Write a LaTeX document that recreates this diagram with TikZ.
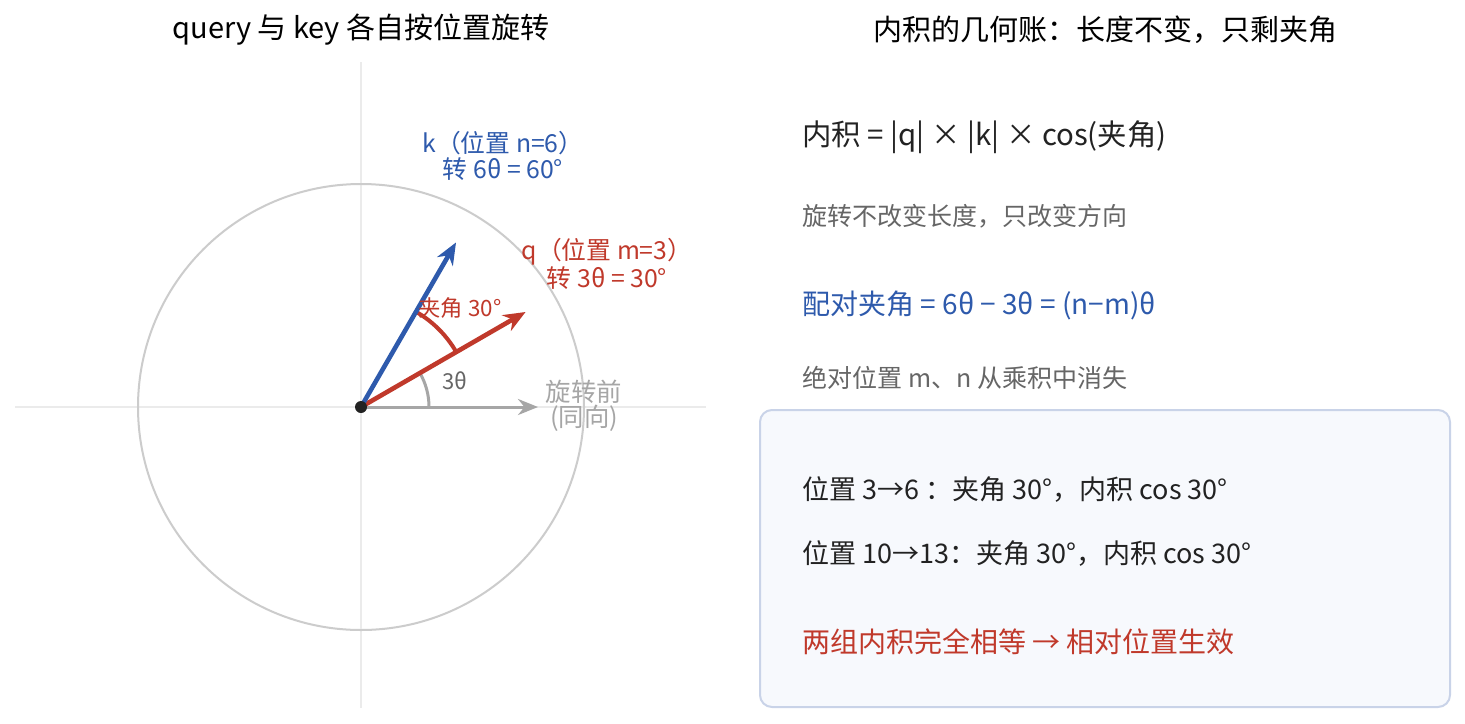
\documentclass[tikz,border=0pt]{standalone}
\usepackage{fontspec}
\setmainfont{Noto Sans CJK SC}
\usepackage{tikz}
\usetikzlibrary{arrows.meta,calc}
\definecolor{kblue}{HTML}{2E5AAC}
\definecolor{qred}{HTML}{C0392B}
\definecolor{axisgray}{HTML}{EBEBEB}
\definecolor{ringgray}{HTML}{CCCCCC}
\definecolor{oldgray}{HTML}{A6A6A6}
\definecolor{textdark}{HTML}{222222}
\definecolor{textgray}{HTML}{666666}
\definecolor{boxfill}{HTML}{F7F9FD}
\definecolor{boxline}{HTML}{C9D3E8}

\begin{document}
\begin{tikzpicture}[x=0.5pt,y=-0.5pt,
  title/.style={font=\fontsize{14.5}{16}\selectfont, text=black},
  vec/.style={line width=2.3pt, -{Stealth[length=11pt,width=9pt]}},
  lbl/.style={font=\fontsize{12.4}{13}\selectfont, inner sep=0pt, align=center},
  row/.style={anchor=west, inner sep=0pt, font=\fontsize{13.5}{15}\selectfont, text=textdark},
  note/.style={anchor=west, inner sep=0pt, font=\fontsize{12.5}{14}\selectfont, text=textgray}]
\useasboundingbox[fill=white] (0,0) rectangle (1465,723);

% titles
\node[title] (lefttitle) at (361,30) {query 与 key 各自按位置旋转};
\node[title] (righttitle) at (1105,30) {内积的几何账：长度不变，只剩夹角};

% axes and unit circle
\coordinate (o) at (361,407);
\draw[axisgray, line width=0.6pt] (15,407) -- (706,407);
\draw[axisgray, line width=0.6pt] (361,62) -- (361,708);
\draw[ringgray, line width=1pt] (o) circle[radius=223];

% angle marks
\draw[oldgray, line width=1.5pt] ($(o)+(68,0)$) arc[start angle=0, end angle=-30, radius=68];
\draw[qred, line width=2pt] ($(o)+(-30:110)$) arc[start angle=-30, end angle=-60, radius=110];

% vectors
\coordinate (oldtip) at ($(o)+(177,0)$);
\coordinate (qtip) at ($(o)+(-30:190)$);
\coordinate (ktip) at ($(o)+(-60:190)$);
\draw[vec, oldgray, line width=1.5pt, -{Stealth[length=10pt,width=8pt]}] (o) -- (oldtip);
\draw[vec, qred] (o) -- (qtip);
\draw[vec, kblue] (o) -- (ktip);
\fill[textdark] (o) circle[radius=6];

% vector labels
\node[lbl, text=kblue] (klabel) at (503,156) {k（位置 n=6）\\转 6θ = 60°};
\node[lbl, text=qred] (qlabel) at (607,264) {q（位置 m=3）\\转 3θ = 30°};
\node[lbl, text=qred, font=\fontsize{11.2}{12}\selectfont] (gap) at (460,308) {夹角 30°};
\node[lbl, text=textgray, font=\fontsize{11}{12}\selectfont] (theta) at (455,381) {3θ};
\node[lbl, text=oldgray, font=\fontsize{12.7}{12.5}\selectfont] (before) at (584,406) {旋转前\\(同向)};

% right panel
\node[row, font=\fontsize{14.7}{16}\selectfont] (dot) at (802,137) {内积 = |q| × |k| × cos(夹角)};
\node[note] (keep) at (802,216) {旋转不改变长度，只改变方向};
\node[row, text=kblue, font=\fontsize{14}{16}\selectfont] (pair) at (802,305) {配对夹角 = 6θ − 3θ = (n−m)θ};
\node[note] (gone) at (802,378) {绝对位置 m、n 从乘积中消失};

\draw[boxline, fill=boxfill, line width=1pt, rounded corners=6pt] (760,410) rectangle (1450,707);
\node[row] (caseA) at (802,489) {位置 3→6 ：夹角 30°，内积 cos 30°};
\node[row] (caseB) at (802,553) {位置 10→13：夹角 30°，内积 cos 30°};
\node[row, text=qred, font=\fontsize{14}{16}\selectfont] (same) at (802,642) {两组内积完全相等 → 相对位置生效};
\end{tikzpicture}
\end{document}
